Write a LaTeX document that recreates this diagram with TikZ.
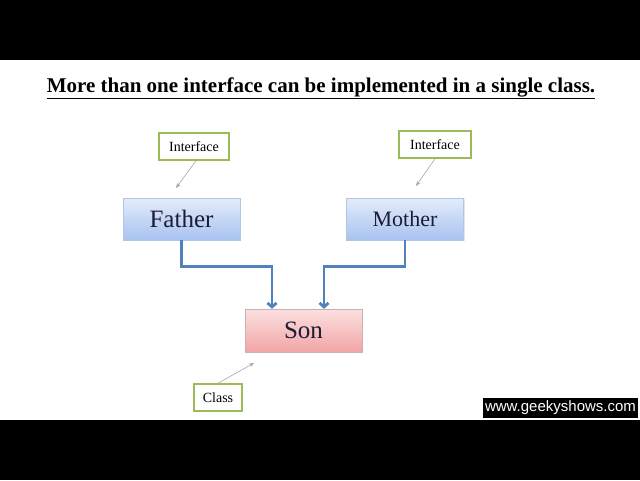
\documentclass[tikz,border=0pt]{standalone}
\usepackage{fontspec}
\setmainfont{Liberation Serif}
\newfontfamily\webfont{Liberation Sans}
\usetikzlibrary{positioning}
\usetikzlibrary{shadows}
\usetikzlibrary{arrows.meta}
\definecolor{boxblue}{HTML}{4F81BD}
\definecolor{tagolive}{HTML}{9BBB59}
\definecolor{skytop}{HTML}{E3ECFB}
\definecolor{skybottom}{HTML}{A8C2F0}
\definecolor{rosetop}{HTML}{FBE0E0}
\definecolor{rosebottom}{HTML}{F2A5A5}
\definecolor{inkblue}{HTML}{1C1C34}

\begin{document}
\begin{tikzpicture}[x=1pt, y=-1pt,
        parent/.style = {draw=boxblue!45, top color=skytop, bottom color=skybottom, text=inkblue,
            minimum width=117pt, minimum height=42pt, inner sep=0pt,
            drop shadow={opacity=0.2, shadow xshift=1pt, shadow yshift=-1pt}},
        child/.style = {draw=red!25!black!30, top color=rosetop, bottom color=rosebottom, text=inkblue,
            minimum width=117pt, minimum height=43pt, inner sep=0pt,
            drop shadow={opacity=0.2, shadow xshift=1pt, shadow yshift=-1pt}},
        tag/.style = {draw=tagolive, line width=1.5pt, fill=white,
            minimum height=27pt, inner sep=3pt, font=\fontsize{14}{16}\selectfont},
        link/.style = {draw=boxblue, line width=2.8pt, -{Straight Barb[length=4pt, width=9pt]}},
        pointer/.style = {draw=black!35, line width=0.6pt, -{Stealth[length=5pt, width=4pt]}}]
        \useasboundingbox (0,0) rectangle (640,480);
        \fill[black] (0,0) rectangle (640,60);
        \fill[black] (0,420) rectangle (640,480);
        
        \node (title) at (321,88) {\fontsize{21}{24}\selectfont\bfseries\underline{More than one interface can be implemented in a single class.}};
        
        \node (father) [parent] at (181.5,219) {\fontsize{25}{28}\selectfont Father};
        \node (mother) [parent] at (405,219) {\fontsize{22}{26}\selectfont Mother};
        \node (son) [child] at (303.5,330.5) {\fontsize{25}{28}\selectfont Son};
        
        \node (ifather) [tag, minimum width=70pt] at (194,146.5) {Interface};
        \node (imother) [tag, minimum width=72pt] at (435,144.5) {Interface};
        \node (cls) [tag, minimum width=48pt] at (218,397.5) {Class};
        
        \coordinate (fathertip) at (176,188);
        \coordinate (mothertip) at (416,186);
        \coordinate (sontip) at (254,363);
        
        \draw[link] (father.south) -- ++(0,26) -| ([xshift=-31.5pt]son.north);
        \draw[link] (mother.south) -- ++(0,26) -| ([xshift=20.5pt]son.north);
        
        \draw[pointer] ([xshift=2pt]ifather.south) -- (fathertip);
        \draw[pointer] (imother.south) -- (mothertip);
        \draw[pointer] (cls.north) -- (sontip);
        
        \node (site) [fill=black, text=white, minimum width=155pt, minimum height=20pt, inner sep=0pt] at (560.5,408) {\webfont\fontsize{15}{17}\selectfont www.geekyshows.com};
    \end{tikzpicture}
\end{document}
